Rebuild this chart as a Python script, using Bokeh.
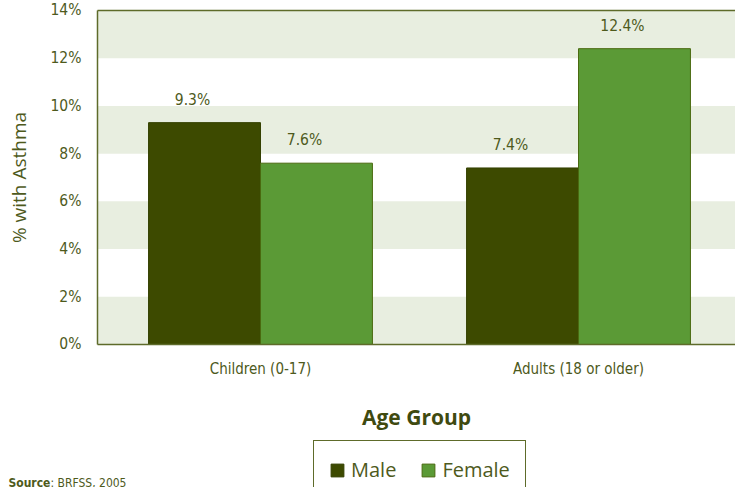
from bokeh.plotting import figure
from bokeh.models import (Range1d, FixedTicker, Legend, LegendItem, Label,
                          LinearAxis, ColumnDataSource, NumeralTickFormatter)
from bokeh.core.properties import value
from bokeh.embed import file_html
from bokeh.resources import INLINE

categories = ["Children (0-17)", "Adults (18 or older)"]
male = [9.3, 7.4]
female = [7.6, 12.4]
y_ticks = [0, 2, 4, 6, 8, 10, 12, 14]
series_names = ["Male", "Female"]
source_bold = "Source"
source_rest = ": BRFSS, 2005"

NARROW = "'DejaVu Sans Condensed', sans-serif"
REG = "'Open Sans', sans-serif"
OLIVE = "#4e5a1c"
MALE_C = "#3d4a00"
FEMALE_C = "#5b9a36"
MALE_LINE = "#344000"
FEMALE_LINE = "#4a6a10"
BAND = "#e8eee0"
LINE = "#5e6b2a"

# layout constants (data-space placement of the plot box inside the canvas)
X_START, X_END = 0.1824, 2.4937
AXIS_X = 0.4874
SOURCE_X = 0.2075
SOURCE_Y = -5.5
Y_START, Y_END = -5.994, 14.419

pos = [i + 1 for i in range(len(categories))]
w = 0.352

p = figure(width=735, height=487, output_backend="svg", toolbar_location=None,
           x_range=Range1d(X_START, X_END), y_range=Range1d(Y_START, Y_END),
           min_border_left=0, min_border_right=0, min_border_top=0,
           min_border_bottom=0)
p.outline_line_color = None
p.background_fill_color = "white"
p.xgrid.visible = False
p.ygrid.visible = False

# alternating background bands between the y ticks
p.quad(left=AXIS_X, right=X_END, bottom=y_ticks[0::2], top=y_ticks[1::2],
       fill_color=BAND, line_color=None, level="underlay")

src_m = ColumnDataSource(dict(x=[x - w / 2 for x in pos], top=male,
                              lab=[f"{v:.1f}%" for v in male]))
src_f = ColumnDataSource(dict(x=[x + w / 2 for x in pos], top=female,
                              lab=[f"{v:.1f}%" for v in female]))

rm = p.vbar(x="x", top="top", width=w, source=src_m, fill_color=MALE_C,
            line_color=MALE_LINE, line_width=1)
rf = p.vbar(x="x", top="top", width=w, source=src_f, fill_color=FEMALE_C,
            line_color=FEMALE_LINE, line_width=1)

for s in (src_m, src_f):
    p.text(x="x", y="top", text="lab", source=s, text_align="center",
           text_baseline="bottom", y_offset=-14, x_offset=-12,
           text_font=value(NARROW), text_font_size="15.5px", text_color=OLIVE)

# y axis
ya = p.yaxis[0]
ya.fixed_location = AXIS_X
ya.bounds = (y_ticks[0], y_ticks[-1])
ya.ticker = FixedTicker(ticks=y_ticks)
ya.formatter = NumeralTickFormatter(format="0")
ya.major_label_overrides = {t: f"{t}%" for t in y_ticks}
ya.major_tick_out = 0
ya.major_tick_in = 0
ya.minor_tick_line_color = None
ya.axis_line_color = LINE
ya.axis_line_width = 1.5
ya.major_label_standoff = 16
ya.major_label_text_font = NARROW
ya.major_label_text_font_size = "15.5px"
ya.major_label_text_color = OLIVE
ya.axis_label = "% with Asthma"
ya.axis_label_text_font = REG
ya.axis_label_text_font_style = "normal"
ya.axis_label_text_font_size = "19px"
ya.axis_label_text_color = OLIVE
ya.axis_label_standoff = 16

# x axis
xa = p.xaxis[0]
xa.fixed_location = 0
xa.bounds = (AXIS_X, X_END)
xa.ticker = FixedTicker(ticks=pos)
xa.major_label_overrides = {x: c for x, c in zip(pos, categories)}
xa.major_tick_out = 0
xa.major_tick_in = 0
xa.minor_tick_line_color = None
xa.axis_line_color = LINE
xa.axis_line_width = 1.5
xa.major_label_standoff = 16
xa.major_label_text_font = NARROW
xa.major_label_text_font_size = "15px"
xa.major_label_text_color = OLIVE
xa.axis_label = "Age Group"
xa.axis_label_text_font = REG
xa.axis_label_text_font_style = "bold"
xa.axis_label_text_font_size = "21px"
xa.axis_label_text_color = "#3f4a10"
xa.axis_label_standoff = 21

# top border of the plot box
top_axis = LinearAxis(fixed_location=y_ticks[-1], bounds=(AXIS_X, X_END),
                      ticker=FixedTicker(ticks=[]), major_tick_out=0,
                      major_tick_in=0, minor_tick_line_color=None,
                      major_label_text_font_size="0px",
                      axis_line_color=LINE, axis_line_width=1.5)
p.add_layout(top_axis, "above")

legend = Legend(items=[LegendItem(label=series_names[0], renderers=[rm]),
                       LegendItem(label=series_names[1], renderers=[rf])],
                orientation="horizontal", location=(313, -12),
                glyph_width=16, glyph_height=16, label_standoff=6, spacing=24,
                padding=15, margin=0, border_line_color=LINE,
                border_line_width=1.5, border_line_alpha=1.0,
                label_text_font=REG, label_text_font_size="20px",
                label_text_color=OLIVE, background_fill_alpha=1.0)
p.add_layout(legend, "center")

p.add_layout(Label(x=SOURCE_X, y=SOURCE_Y, text=source_bold, text_font=NARROW,
                   text_font_size="12px", text_font_style="bold",
                   text_color=OLIVE, text_baseline="top"))
p.add_layout(Label(x=SOURCE_X, y=SOURCE_Y, x_offset=42, text=source_rest,
                   text_font=NARROW, text_font_size="12px", text_color=OLIVE,
                   text_baseline="top"))

open("out.html", "w").write(file_html(p, INLINE))
